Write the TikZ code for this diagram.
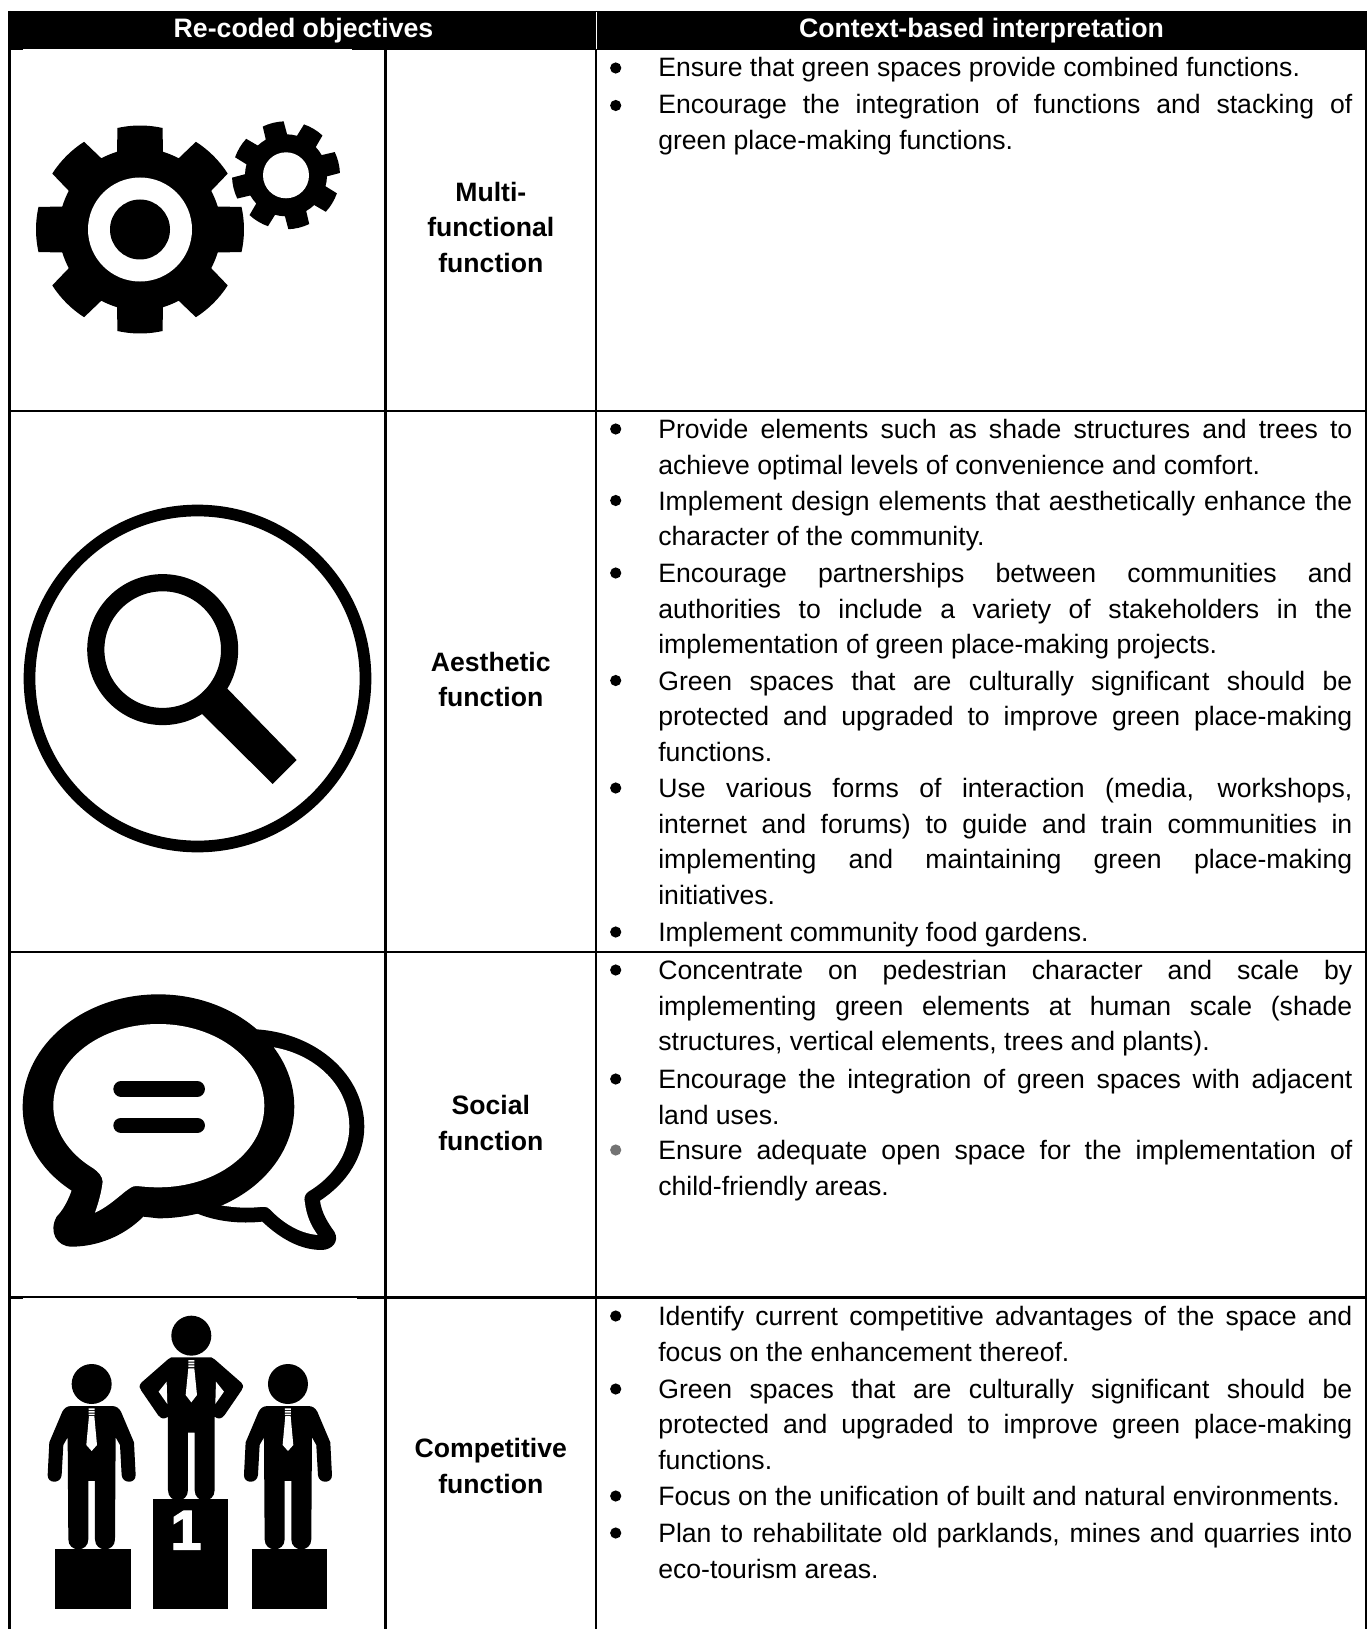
\documentclass[tikz,border=0pt]{standalone}
\usepackage{fontspec}
\setmainfont[Ligatures=NoCommon]{Liberation Sans}
\tolerance=9999 \hbadness=10000 \hfuzz=3pt
\tikzset{
  rule/.style={line width=2.4pt,black},
  txt/.style={anchor=north west,inner sep=0pt,outer sep=0pt,text width=694pt,align=justify,yshift=-2.6pt,
    font=\fontsize{26.6}{35.6}\selectfont},
  lab/.style={anchor=north,inner sep=0pt,outer sep=0pt,align=center,yshift=-2.1pt,
    font=\fontsize{26.6}{35.6}\selectfont\bfseries},
  head/.style={anchor=base,inner sep=0pt,outer sep=0pt,text=white,font=\fontsize{26.7}{30}\selectfont\bfseries},
  dot/.style={black},
  man/.pic={
    \fill (-60,378) -- (60,378) .. controls (75,378) and (82,385) .. (88,395) -- (127,487) -- (132,585)
      .. controls (133,612) and (92,612) .. (90,585) -- (85,495) -- (72,472) -- (70,778)
      .. controls (70,818) and (10,818) .. (10,778) -- (10,603) -- (-10,603) -- (-10,778)
      .. controls (-10,818) and (-70,818) .. (-70,778) -- (-72,472) -- (-85,495) -- (-90,585)
      .. controls (-92,612) and (-133,612) .. (-132,585) -- (-127,487) -- (-88,395)
      .. controls (-82,385) and (-75,378) .. (-60,378) -- cycle;
    \fill (0,312) circle[radius=60];
    \fill[white] (-8,408) -- (8,408) -- (16,495) -- (0,513) -- (-16,495) -- cycle;
    \fill[white] (-9,385) rectangle (9,390) (-9,393) rectangle (9,398) (-9,401) rectangle (9,405);
  }
}
\newcommand{\gearicon}[7]{% cx cy outer root hole phase halfangle
  \begin{scope}[shift={(#1,#2)},x=1pt,y=1pt]
    \fill (#6-#7-4:#4) \foreach \a in {0,45,...,315} {
      -- ({#6+\a-#7-4}:#4) -- ({#6+\a-#7}:#3)
      arc[start angle={#6+\a-#7},end angle={#6+\a+#7},radius=#3]
      -- ({#6+\a+#7+4}:#4)
      arc[start angle={#6+\a+#7+4},end angle={#6+\a+45-#7-4},radius=#4]
    } -- cycle;
    \fill[white] (0,0) circle[radius=#5];
  \end{scope}}
\begin{document}
\begin{tikzpicture}[x=1pt,y=-1pt]
\useasboundingbox (0,0) rectangle (1371,1629);
\fill[white] (0,0) rectangle (1371,1629);
% table rules
\foreach \xx in {9.5,385.5,596,1366} \draw[rule] (\xx,11) -- (\xx,1629);
\foreach \yy in {410.7,951.7,1297.3} \draw[rule] (9.5,\yy) -- (1366,\yy);
\fill[white] (23,1297.7) rectangle (357,1299);
% header
\fill[black] (8,11) rectangle (1367.2,50);
\fill[white] (23,49) rectangle (352,50.2);
\draw[white,line width=1.5pt] (596.5,12) -- (596.5,49.5);
\node[head] (h1) at (303.5,37.5) {Re-coded objectives};
\node[head] (h2) at (981.5,37.5) {Context-based interpretation};
% labels
\node[lab] (l1) at (490.8,174.3) {\strut Multi-\\functional\\function};
\node[lab] (l2) at (490.8,644) {\strut Aesthetic\\function};
\node[lab] (l3) at (490.8,1087.6) {\strut Social\\function};
\node[lab] (l4) at (490.8,1430.5) {\strut Competitive\\function};
% bullets
\foreach \yy in {68,105.5,429,500.5,573,680.5,788,932,970,1079,1316,1389,1496,1533} \fill[dot] (615.7,\yy) circle[radius=5.6];
\fill[black!55] (615.7,1150) circle[radius=5.6];
\node[txt] (t1) at (658.3,48.5) {\strut Ensure that green spaces provide combined functions.};
\node[txt] (t2) at (658.3,86) {\strut Encourage the integration of functions and stacking of\linebreak green place-making functions.};
% row 2
\node[txt] (t3) at (658.3,411) {\strut Provide elements such as shade structures and trees to\linebreak achieve optimal levels of convenience and comfort.};
\node[txt] (t4) at (658.3,482.5) {\strut Implement design elements that aesthetically enhance the\linebreak character of the community.};
\node[txt] (t5) at (658.3,555) {\strut Encourage partnerships between communities and\linebreak authorities to include a variety of stakeholders in the\linebreak implementation of green place-making projects.};
\node[txt] (t6) at (658.3,662.5) {\strut Green spaces that are culturally significant should be\linebreak protected and upgraded to improve green place-making\linebreak functions.};
\node[txt] (t7) at (658.3,770) {\strut Use various forms of interaction (media, workshops,\linebreak internet and forums) to guide and train communities in\linebreak implementing and maintaining green place-making\linebreak initiatives.};
\node[txt] (t8) at (658.3,913.5) {\strut Implement community food gardens.};
% row 3
\node[txt] (t9) at (658.3,952) {\strut Concentrate on pedestrian character and scale by\linebreak implementing green elements at human scale (shade\linebreak structures, vertical elements, trees and plants).};
\node[txt] (t10) at (658.3,1061) {\strut Encourage the integration of green spaces with adjacent\linebreak land uses.};
\node[txt] (t11) at (658.3,1132) {\strut Ensure adequate open space for the implementation of\linebreak child-friendly areas.};
% row 4
\node[txt] (t12) at (658.3,1298) {\strut Identify current competitive advantages of the space and\linebreak focus on the enhancement thereof.};
\node[txt] (t13) at (658.3,1370.5) {\strut Green spaces that are culturally significant should be\linebreak protected and upgraded to improve green place-making\linebreak functions.};
\node[txt] (t14) at (658.3,1478) {\strut Focus on the unification of built and natural environments.};
\node[txt] (t15) at (658.3,1515) {\strut Plan to rehabilitate old parklands, mines and quarries into\linebreak eco-tourism areas.};
% gears
\gearicon{140}{229.5}{104}{81}{52}{0}{12.5}
\fill (140,229.5) circle[radius=30];
\gearicon{286}{175.3}{54}{41}{23}{14}{11.5}
% magnifier
\draw[line width=11.7pt] (197.5,678.5) circle[radius=168];
\draw[line width=17.2pt] (162.7,649.6) circle[radius=66.9];
\fill (227.3,688.6) -- (296.7,760) -- (272.7,784) -- (201.7,713.6) -- cycle;
% speech bubbles
\begin{scope}[shift={(0,950)},x=0.3333pt,y=-0.3333pt]
  \fill (770,238) .. controls (950,250) and (1093,375) .. (1093,530)
    .. controls (1093,620) and (1040,700) .. (960,752)
    .. controls (965,790) and (985,820) .. (1003,845)
    .. controls (1020,875) and (995,900) .. (965,900)
    .. controls (900,900) and (840,865) .. (787,815)
    .. controls (720,822) and (650,815) .. (590,790) -- cycle;
  \fill[white] (822,292) .. controls (950,315) and (1048,410) .. (1048,530)
    .. controls (1048,610) and (1000,680) .. (925,725)
    .. controls (912,735) and (912,745) .. (915,760)
    .. controls (920,800) and (935,830) .. (953,855)
    .. controls (895,850) and (845,815) .. (810,778)
    .. controls (800,768) and (790,770) .. (770,772)
    .. controls (735,775) and (700,772) .. (662,766) -- (780,500) -- cycle;
  \fill (215,722) .. controls (120,660) and (68,570) .. (68,470)
    .. controls (68,285) and (250,133) .. (475,133)
    .. controls (700,133) and (883,285) .. (883,470)
    .. controls (883,655) and (700,805) .. (475,805)
    -- (430,800) .. controls (370,860) and (290,890) .. (215,890)
    .. controls (170,890) and (145,845) .. (170,800)
    .. controls (190,780) and (205,750) .. (215,722) -- cycle;
  \fill[white] (475,222) .. controls (650,222) and (793,330) .. (793,467)
    .. controls (793,605) and (650,712) .. (475,712)
    .. controls (450,712) and (430,710) .. (410,708)
    .. controls (395,708) and (390,715) .. (375,725)
    .. controls (345,750) and (315,775) .. (285,788)
    .. controls (295,760) and (305,725) .. (308,695)
    .. controls (308,680) and (295,665) .. (280,655)
    .. controls (205,610) and (160,540) .. (160,467)
    .. controls (160,330) and (300,222) .. (475,222) -- cycle;
  \draw[line width=15.3pt,line cap=round] (363,417) -- (592,417);
  \draw[line width=15.3pt,line cap=round] (363,526) -- (592,526);
\end{scope}
% podium
\begin{scope}[shift={(0,1280)},x=0.3333pt,y=-0.3333pt]
  \fill (166,808) rectangle (392,987);
  \fill (458,658) rectangle (685,987);
  \fill (755,808) rectangle (981,987);
  \pic at (275,0) {man};
  \pic at (864,0) {man};
  \begin{scope}[shift={(574,0)}]
    \fill (-60,232) -- (60,232) -- (70,238) -- (150,308) .. controls (158,318) and (156,325) .. (150,332)
      -- (100,405) .. controls (90,418) and (80,418) .. (70,410) -- (70,630)
      .. controls (70,672) and (10,672) .. (10,630) -- (10,458) -- (-10,458) -- (-10,630)
      .. controls (-10,672) and (-70,672) .. (-70,630) -- (-70,410)
      .. controls (-80,418) and (-90,418) .. (-100,405) -- (-150,332)
      .. controls (-156,325) and (-158,318) .. (-150,308) -- (-70,238) -- cycle;
    \fill (0,167) circle[radius=60];
    \fill[white] (74,305) -- (98,335) -- (72,372) -- cycle;
    \fill[white] (-74,305) -- (-98,335) -- (-72,372) -- cycle;
    \fill[white] (-9,265) -- (9,265) -- (17,345) -- (0,367) -- (-17,345) -- cycle;
    \fill[white] (-9,240) rectangle (9,245) (-9,248) rectangle (9,253) (-9,256) rectangle (9,261);
  \end{scope}
\end{scope}
\node[anchor=base,inner sep=0pt,text=white,font=\fontsize{56}{56}\selectfont\bfseries\addfontfeature{FakeBold=2.5}] (one) at (186,1549.5) {1};
\end{tikzpicture}
\end{document}
